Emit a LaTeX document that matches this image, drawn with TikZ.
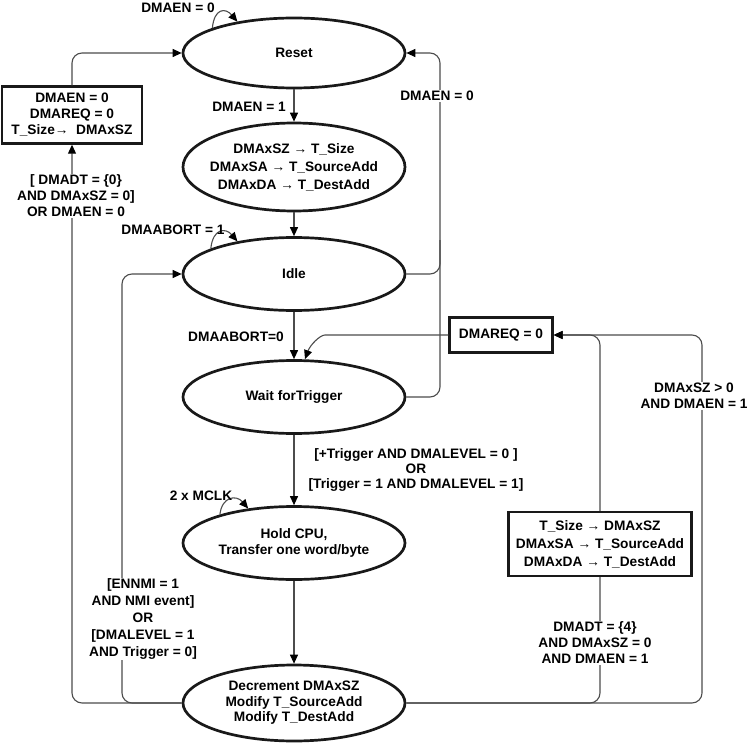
\documentclass[tikz,border=0pt]{standalone}
\usepackage{fontspec}
\setmainfont{Liberation Sans}
\usetikzlibrary{arrows.meta,shapes.geometric}
\begin{document}
\begin{tikzpicture}[x=1pt,y=-1pt,font=\fontsize{13.7}{16}\selectfont\bfseries]
        \tikzstyle{state}=[ellipse,draw=black!90,line width=2.7pt,minimum width=222pt,minimum height=72pt,inner sep=-8pt,align=center]
        \tikzstyle{action}=[rectangle,draw=black!90,line width=2.4pt,fill=white,align=center,inner sep=0pt]
        \tikzstyle{line}=[draw=black!70,line width=1.1pt,rounded corners=10pt]
        \tikzstyle{flow}=[line,-{Triangle[length=9pt,width=8pt,color=black]}]
        \tikzstyle{tag}=[align=center,inner sep=1pt]
        \tikzstyle{cond}=[tag,fill=white]
        \useasboundingbox (0,0) rectangle (754,743);
        % states
        \node [state,minimum height=70pt] (reset) at (294,53) {Reset};
        \node [state,minimum height=88pt,font=\fontsize{13.7}{18}\selectfont\bfseries] (setup) at (294,167) {DMAxSZ → T\_Size\\DMAxSA → T\_SourceAdd\\DMAxDA → T\_DestAdd};
        \node [state,minimum height=73pt] (idle) at (294,274) {Idle};
        \node [state,minimum height=73pt] (wait) at (294,397) {Wait forTrigger};
        \node [state,minimum height=73pt] (hold) at (294,543) {Hold CPU,\\Transfer one word/byte};
        \node [state,minimum height=76pt,font=\fontsize{13.7}{15.5}\selectfont\bfseries] (decr) at (294,703) {Decrement DMAxSZ\\Modify T\_SourceAdd\\Modify T\_DestAdd};
        % actions
        \node [action,minimum width=140pt,minimum height=57pt] (initbox) at (72,115) {DMAEN = 0\\DMAREQ = 0\\T\_Size→\ \ DMAxSZ};
        \node [action,minimum width=103pt,minimum height=35pt] (reqbox) at (501,335) {DMAREQ = 0};
        \node [action,minimum width=183pt,minimum height=64pt,font=\fontsize{13.7}{18}\selectfont\bfseries] (reloadbox) at (600,544) {T\_Size → DMAxSZ\\DMAxSA → T\_SourceAdd\\DMAxDA → T\_DestAdd};
        \coordinate (abortturn) at (440,53);
        \coordinate (idlejoin) at (440,240);
        \coordinate (nmiturn) at (122,274);
        \coordinate (retrigturn) at (702,335);
        \coordinate (reqbend) at (335,335);
        % transitions
        \path[flow] (reset) -- (setup);
        \path[flow] (setup) -- (idle);
        \path[flow] (idle) -- (wait);
        \path[flow] (wait) -- (hold);
        \path[flow] (hold) -- (decr);
        \path[flow] (initbox.north) |- (reset.west);
        \path[flow] (decr.west) -| (initbox.south);
        \path[flow] (decr.west) -| (nmiturn) -- (idle.west);
        \path[flow] (wait.east) -| (abortturn) -- (reset.east);
        \path[line] (idle.east) -| (idlejoin);
        \path[line] (decr.east) -| (reloadbox.south);
        \path[flow] (reloadbox.north) |- (reqbox.east);
        \path[flow] (decr.east) -| (retrigturn) -- (reqbox.east);
        \path[flow] (reqbox.west) -- (reqbend) to[out=180,in=70] ([xshift=11pt]wait.north);
        \path[flow] (reset.163) .. controls +(2,-20) and +(-12,-14) .. (reset.151);
        \path[flow] (idle.163) .. controls +(2,-20) and +(-12,-14) .. (idle.150);
        \path[flow] (hold.159) .. controls +(2,-18) and +(-12,-14) .. (hold.143);
        % conditions
        \node [tag] (resetloop) at (178,8) {DMAEN = 0};
        \node [tag] (idleloop) at (173,230) {DMAABORT = 1};
        \node [tag] (holdloop) at (201,496) {2 x MCLK};
        \node [tag] (enacond) at (249,107) {DMAEN = 1};
        \node [tag] (abortcond) at (236,337) {DMAABORT=0};
        \node [tag,font=\fontsize{13.7}{15}\selectfont\bfseries] (trigcond) at (416,470) {{[}+Trigger AND DMALEVEL = 0 {]}\\OR\\{[}Trigger = 1 AND DMALEVEL = 1{]}};
        \node [cond] (disablecond) at (437,96) {DMAEN = 0};
        \node [cond] (donecond) at (76,196) {{[} DMADT = \{0\}\\AND DMAxSZ = 0{]}\\OR DMAEN = 0};
        \node [cond,font=\fontsize{13.7}{17}\selectfont\bfseries] (nmicond) at (143,619) {{[}ENNMI = 1\\AND NMI event{]}\\OR\\{[}DMALEVEL = 1\\AND Trigger = 0{]}};
        \node [cond] (reloadcond) at (595,643) {DMADT = \{4\}\\AND DMAxSZ = 0\\AND DMAEN = 1};
        \node [cond] (retrigcond) at (694,396) {DMAxSZ > 0\\AND DMAEN = 1};
\end{tikzpicture}
\end{document}
